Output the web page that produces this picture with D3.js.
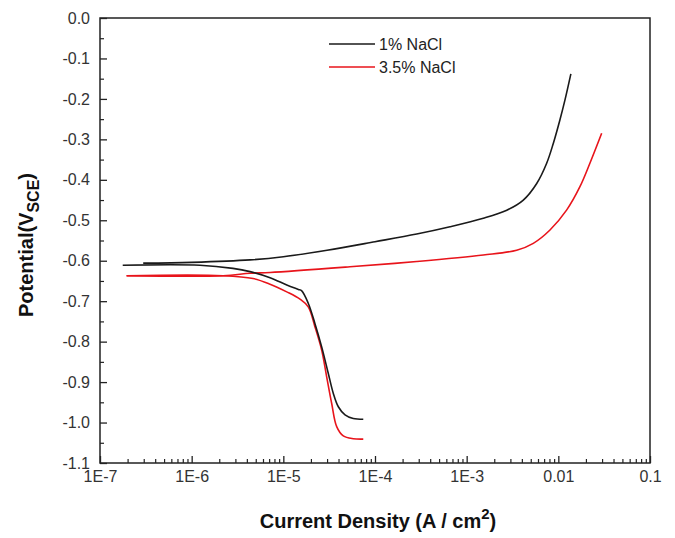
<!DOCTYPE html>
<html>
<head>
<meta charset="utf-8">
<script src="https://cdn.jsdelivr.net/npm/d3@7"></script>
<style>
  body { margin: 0; background: #fff; }
  text { font-family: "Liberation Sans", Arial, sans-serif; }
</style>
</head>
<body>
<script>
var width = 675;
var height = 538;
var padding = { left: 100, top: 18, right: 25, bottom: 75 };

// 1% NaCl, cathodic branch (from corrosion potential downwards)
var cath1Current = [1.77e-7, 1.23e-6, 2.82e-6, 4.33e-6, 7.16e-6, 1.09e-5, 1.46e-5, 1.58e-5, 1.87e-5, 2.21e-5, 2.62e-5, 3.09e-5, 3.51e-5, 3.98e-5, 4.71e-5, 5.79e-5, 7.45e-5];
var cath1Potential = [-0.611, -0.611, -0.619, -0.627, -0.642, -0.660, -0.671, -0.674, -0.705, -0.755, -0.813, -0.878, -0.928, -0.961, -0.981, -0.990, -0.992];
// 1% NaCl, anodic branch
var anod1Current = [2.96e-7, 1.0e-6, 4.33e-6, 1.0e-5, 3.0e-5, 1.0e-4, 2.85e-4, 6.58e-4, 1.52e-3, 2.74e-3, 4.15e-3, 5.81e-3, 7.46e-3, 8.81e-3, 1.04e-2, 1.18e-2, 1.37e-2];
var anod1Potential = [-0.606, -0.604, -0.598, -0.590, -0.574, -0.553, -0.534, -0.516, -0.495, -0.475, -0.450, -0.409, -0.359, -0.310, -0.252, -0.203, -0.138];

// 3.5% NaCl
var cath2Current = [1.95e-7, 2.20e-6, 4.67e-6, 7.16e-6, 1.09e-5, 1.52e-5, 1.87e-5, 2.21e-5, 2.62e-5, 2.97e-5, 3.37e-5, 3.82e-5, 4.51e-5, 5.79e-5, 7.45e-5];
var cath2Potential = [-0.637, -0.637, -0.644, -0.658, -0.677, -0.695, -0.714, -0.763, -0.821, -0.887, -0.953, -1.010, -1.033, -1.040, -1.041];
var anod2Current = [1.95e-7, 2.20e-6, 4.33e-6, 7.16e-6, 5.33e-5, 2.85e-4, 1.52e-3, 3.51e-3, 5.33e-3, 8.11e-3, 1.23e-2, 1.72e-2, 2.21e-2, 2.97e-2];
var anod2Potential = [-0.637, -0.637, -0.631, -0.629, -0.615, -0.602, -0.586, -0.574, -0.557, -0.524, -0.475, -0.417, -0.359, -0.285];

var xTicks = [1e-7, 1e-6, 1e-5, 1e-4, 1e-3, 0.01, 0.1];
var xTickLabels = ['1E-7', '1E-6', '1E-5', '1E-4', '1E-3', '0.01', '0.1'];
var yTicks = [0.0, -0.1, -0.2, -0.3, -0.4, -0.5, -0.6, -0.7, -0.8, -0.9, -1.0, -1.1];

var seriesNames = ['1% NaCl', '3.5% NaCl'];
var seriesColors = ['#1a1a1a', '#e8141b'];

function pairs(xs, ys) {
  return xs.map(function (x, i) { return [x, ys[i]]; });
}

var branches = [
  { points: pairs(cath1Current, cath1Potential), color: seriesColors[0] },
  { points: pairs(anod1Current, anod1Potential), color: seriesColors[0] },
  { points: pairs(cath2Current, cath2Potential), color: seriesColors[1] },
  { points: pairs(anod2Current, anod2Potential), color: seriesColors[1] }
];

var svg = d3.select('body')
            .append('svg')
            .attr('width', width)
            .attr('height', height);

var xScale = d3.scaleLog()
               .domain([1e-7, 0.1])
               .range([padding.left, width - padding.right]);

var yScale = d3.scaleLinear()
               .domain([0, -1.1])
               .range([padding.top, height - padding.bottom]);

var line = d3.line()
             .x(function (d) { return xScale(d[0]); })
             .y(function (d) { return yScale(d[1]); })
             .curve(d3.curveCatmullRom.alpha(0.5));

// curves: red under black
svg.selectAll('path.curve')
   .data(branches.slice().reverse())
   .enter()
   .append('path')
   .attr('class', 'curve')
   .attr('d', function (d) { return line(d.points); })
   .attr('fill', 'none')
   .attr('stroke', function (d) { return d.color; })
   .attr('stroke-width', 1.6);

// frame
svg.append('rect')
   .attr('x', padding.left)
   .attr('y', padding.top)
   .attr('width', width - padding.left - padding.right)
   .attr('height', height - padding.top - padding.bottom)
   .attr('fill', 'none')
   .attr('stroke', '#222')
   .attr('stroke-width', 1.5);

// bottom axis: majors at decades, minors at 2..9
var minorX = [];
for (var e = -7; e < -1; e++) {
  for (var m = 2; m <= 9; m++) minorX.push(m * Math.pow(10, e));
}
var gx = svg.append('g')
            .attr('transform', `translate(0,${height - padding.bottom})`)
            .call(d3.axisBottom(xScale)
                    .tickValues(xTicks)
                    .tickSize(-7)
                    .tickFormat(function (d, i) { return xTickLabels[i]; })
                    .tickPadding(8));
gx.select('.domain').remove();
gx.selectAll('text').attr('font-size', 16).attr('fill', '#333');
gx.selectAll('line').attr('stroke', '#222').attr('stroke-width', 1.3);

var gxMinor = svg.append('g')
                 .attr('transform', `translate(0,${height - padding.bottom})`)
                 .call(d3.axisBottom(xScale).tickValues(minorX).tickSize(-4).tickFormat(''));
gxMinor.select('.domain').remove();
gxMinor.selectAll('line').attr('stroke', '#222').attr('stroke-width', 1.2);

// left axis
var minorY = yTicks.slice(0, -1).map(function (v) { return v - 0.05; });
var gy = svg.append('g')
            .attr('transform', `translate(${padding.left},0)`)
            .call(d3.axisLeft(yScale).tickValues(yTicks).tickSize(-7)
                    .tickFormat(d3.format('.1f')).tickPadding(10));
gy.select('.domain').remove();
gy.selectAll('text').attr('font-size', 16).attr('fill', '#333')
  .text(function (d) { return d3.format('.1f')(d).replace('−', '-'); });
gy.selectAll('line').attr('stroke', '#222').attr('stroke-width', 1.3);

var gyMinor = svg.append('g')
                 .attr('transform', `translate(${padding.left},0)`)
                 .call(d3.axisLeft(yScale).tickValues(minorY).tickSize(-4).tickFormat(''));
gyMinor.select('.domain').remove();
gyMinor.selectAll('line').attr('stroke', '#222').attr('stroke-width', 1.2);

// axis titles
var xTitle = svg.append('text')
                .attr('x', 378)
                .attr('y', 528)
                .attr('text-anchor', 'middle')
                .attr('font-size', 20)
                .attr('font-weight', 'bold')
                .attr('fill', '#111');
xTitle.append('tspan').text('Current Density (A / cm');
xTitle.append('tspan').attr('dy', -9).attr('font-size', 15).text('2');
xTitle.append('tspan').attr('dy', 9).text(')');

var yTitle = svg.append('text')
                .attr('transform', 'translate(33,245) rotate(-90)')
                .attr('text-anchor', 'middle')
                .attr('font-size', 20)
                .attr('font-weight', 'bold')
                .attr('fill', '#111');
yTitle.append('tspan').text('Potential(V');
yTitle.append('tspan').attr('dy', 6).attr('font-size', 16).text('SCE');
yTitle.append('tspan').attr('dy', -6).text(')');

// legend
var legend = svg.selectAll('g.legend')
                .data(seriesNames)
                .enter()
                .append('g')
                .attr('class', 'legend')
                .attr('transform', function (d, i) { return `translate(329,${44 + i * 23})`; });
legend.append('line')
      .attr('x1', 0).attr('x2', 46)
      .attr('stroke', function (d, i) { return seriesColors[i]; })
      .attr('stroke-width', 1.6);
legend.append('text')
      .attr('x', 50)
      .attr('y', 6)
      .attr('font-size', 16)
      .attr('fill', '#222')
      .text(function (d) { return d; });
</script>
</body>
</html>
